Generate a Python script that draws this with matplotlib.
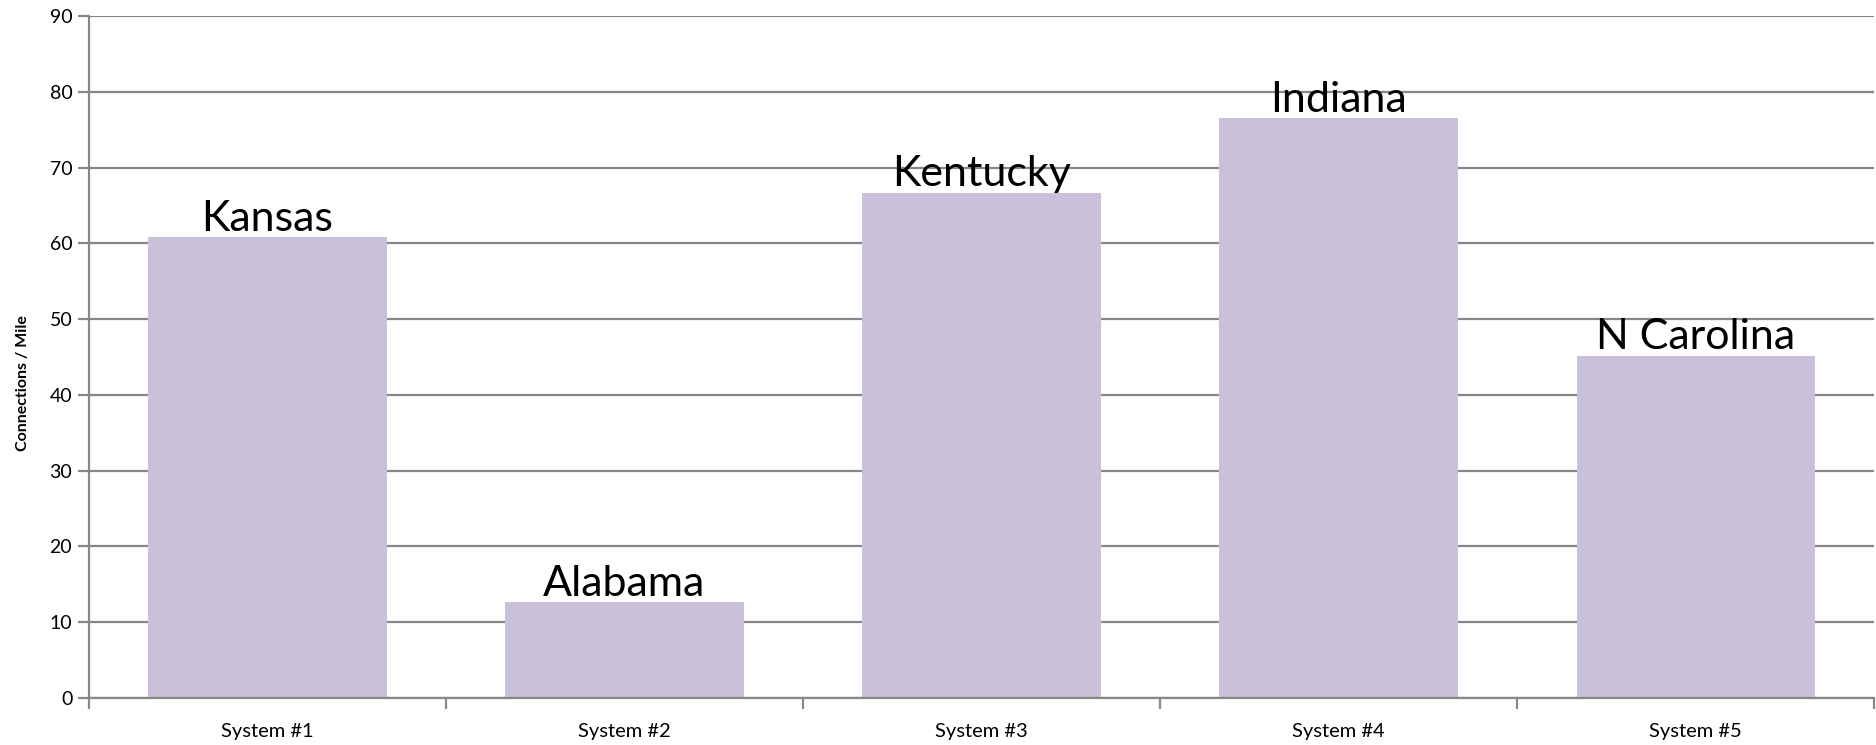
import numpy as np
import matplotlib.pyplot as plt

# Données
systems = ["System #1", "System #2", "System #3", "System #4", "System #5"]
states = ["Kansas", "Alabama", "Kentucky", "Indiana", "N Carolina"]
connections = [60.8, 12.7, 66.7, 76.5, 45.2]

plt.rcParams['font.family'] = ['Lato', 'DejaVu Sans']

fig = plt.figure(figsize=(18.76, 7.45), dpi=100)
ax = fig.add_axes([0.0474, 0.063, 0.9516, 0.9155])

x = np.arange(len(systems))
bars = ax.bar(x, connections, width=0.667, color='#cac0da', zorder=2)

# étiquettes au-dessus des barres
for xi, val, name in zip(x, connections, states):
    ax.annotate(name, (xi, val), xytext=(0, 4.5), textcoords='offset points',
                ha='center', va='baseline', fontsize=31, color='black', zorder=3)

ax.set_xlim(-0.5, len(systems) - 0.5)
ax.set_ylim(0, 90)
ax.set_yticks(np.arange(0, 91, 10))
ax.set_xticks(x)
ax.set_xticklabels(systems)
ax.set_xticks(np.arange(-0.5, len(systems), 1), minor=True)

ax.grid(axis='y', color='#878787', linewidth=1.6, zorder=1)
ax.set_axisbelow(True)
for s in ['top', 'right']:
    ax.spines[s].set_visible(False)
for s in ['left', 'bottom']:
    ax.spines[s].set_color('#878787')
    ax.spines[s].set_linewidth(1.6)

ax.tick_params(axis='y', length=8, width=1.6, color='#878787', labelsize=14, pad=4)
ax.tick_params(axis='x', which='major', length=0, labelsize=14.5, pad=18)
ax.tick_params(axis='x', which='minor', length=8, width=1.6, color='#878787')
ax.set_ylabel("Connections / Mile", fontsize=11.5, fontweight='bold')
ax.yaxis.set_label_coords(-0.0328, 0.462)

fig.savefig("out.png", dpi=100)
